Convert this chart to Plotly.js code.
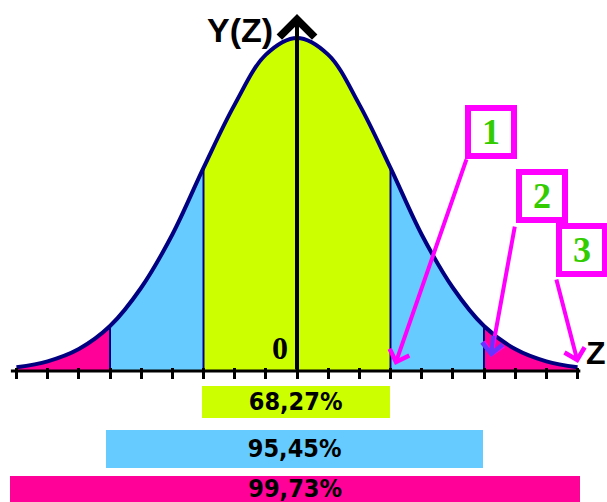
<!DOCTYPE html>
<html><head><meta charset="utf-8">
<script src="https://cdn.plot.ly/plotly-3.0.1.min.js"></script>
<style>html,body{margin:0;padding:0;background:#fff;}#chart{width:607px;height:502px;}</style>
</head><body><div id="chart"></div>
<script>
// ---- data ----
const zGrid = [-3,-2.667,-2.333,-2,-1.667,-1.333,-1,-0.667,-0.333,0,0.333,0.667,1,1.333,1.667,2,2.333,2.667,3];
const yCurve = [0.011,0.029,0.066,0.135,0.25,0.41,0.61,0.80,0.95,1.00,0.95,0.80,0.61,0.41,0.25,0.135,0.066,0.029,0.011];
const bandEdges = [-3,-2,-1,1,2,3];
const bandNames = ['3σ','2σ','1σ','2σ','3σ'];
const dividerZ = [-2,-1,1,2];
const tickZ = [-3,-2.667,-2.333,-2,-1.667,-1.333,-1,-0.667,-0.333,0,0.333,0.667,1,1.333,1.667,2,2.333,2.667,3];
const pctLabels = ['68,27%','95,45%','99,73%'];
const pctLeft = [-1.02,-2.04,-3.07];
const pctRight = [0.99,1.99,3.03];
const zoneNumbers = ['1','2','3'];

// ---- styles ----
const bandColor = {'1σ':'#CCFF00','2σ':'#66CCFF','3σ':'#FF0099'};
const pctColor = ['#CCFF00','#66CCFF','#FF0099'];
const pctRowY = [-0.093,-0.234,-0.354];
const pctRowH = [0.096,0.114,0.078];
const navy = '#000080', magenta = '#FF00FF', numGreen = '#33CC00';

function curveAt(z){ const i = zGrid.findIndex(v=>Math.abs(v-z)<1e-6); return yCurve[i]; }

const traces = [];
for (let i=0;i<bandEdges.length-1;i++){
  const a=bandEdges[i], b=bandEdges[i+1];
  const xs=[], ys=[];
  zGrid.forEach((z,k)=>{ if(z>=a-1e-6 && z<=b+1e-6){xs.push(z); ys.push(yCurve[k]);} });
  traces.push({x:xs,y:ys,type:'scatter',mode:'lines',fill:'tozeroy',
    fillcolor:bandColor[bandNames[i]],line:{width:0,shape:'spline',color:bandColor[bandNames[i]]},hoverinfo:'skip'});
}
// divider lines
const dx=[], dy=[];
dividerZ.forEach(z=>{dx.push(z,z,null); dy.push(0,curveAt(z),null);});
traces.push({x:dx,y:dy,type:'scatter',mode:'lines',line:{color:navy,width:2},hoverinfo:'skip'});
// curve
traces.push({x:zGrid,y:yCurve,type:'scatter',mode:'lines',line:{color:navy,width:4,shape:'spline'},hoverinfo:'skip'});
// percentage bars
traces.push({type:'bar',orientation:'h',
  y:pctRowY, base:pctLeft, x:pctLeft.map((l,i)=>pctRight[i]-l), width:pctRowH,
  marker:{color:pctColor,line:{width:0}},
  text:pctLabels, textposition:'inside', insidetextanchor:'middle', constraintext:'none', textangle:0,
  textfont:{family:'"Liberation Sans Narrow","DejaVu Sans Condensed","Liberation Sans",sans-serif',size:25,color:'#000',weight:'bold'},
  hoverinfo:'skip'});

const W=607,H=502, px0=297, pxPerZ=93.5, py0=371, pxPerY=333;
const annotations = [
  // vertical Y axis with arrow
  {x:0,y:1.072,ax:0,ay:0,xref:'x',yref:'y',axref:'x',ayref:'y',showarrow:true,arrowhead:4,arrowsize:1.7,arrowwidth:4,arrowcolor:'#000',text:''},
  {x:-0.61,y:1.024,xref:'x',yref:'y',text:'Y(Z)',showarrow:false,font:{family:'"Liberation Sans",Arial,sans-serif',size:34,color:'#000',weight:'bold'}},
  {x:3.2,y:0.055,xref:'x',yref:'y',text:'Z',showarrow:false,font:{family:'"Liberation Sans",Arial,sans-serif',size:32,color:'#000',weight:'bold'}},
  {x:-0.18,y:0.069,xref:'x',yref:'y',text:'0',showarrow:false,font:{family:'"Liberation Serif",serif',size:32,color:'#000',weight:'bold'}},
  // magenta pointer arrows
  {x:1.048,y:0.018,ax:1.818,ay:0.640,xref:'x',yref:'y',axref:'x',ayref:'y',showarrow:true,arrowhead:4,arrowsize:1,arrowwidth:4,arrowcolor:magenta,text:''},
  {x:2.075,y:0.042,ax:2.332,ay:0.438,xref:'x',yref:'y',axref:'x',ayref:'y',showarrow:true,arrowhead:4,arrowsize:1,arrowwidth:4,arrowcolor:magenta,text:''},
  {x:2.075,y:0.042,ax:2.10,ay:0.11,xref:'x',yref:'y',axref:'x',ayref:'y',showarrow:true,arrowhead:4,arrowsize:1,arrowwidth:4,arrowcolor:'#6633FF',text:''},
  {x:3.005,y:0.024,ax:2.770,ay:0.279,xref:'x',yref:'y',axref:'x',ayref:'y',showarrow:true,arrowhead:4,arrowsize:1,arrowwidth:4,arrowcolor:magenta,text:''},
];
const boxPos = [[2.080,0.718],[2.615,0.526],[3.053,0.362]];
zoneNumbers.forEach((t,i)=>annotations.push({x:boxPos[i][0],y:boxPos[i][1],xref:'x',yref:'y',text:t,showarrow:false,
  width:40,height:42,borderpad:0,borderwidth:6,bordercolor:magenta,bgcolor:'#fff',
  font:{family:'"Liberation Serif",serif',size:36,color:numGreen,weight:'bold'}}));

const layout = {
  width:W,height:H,margin:{l:0,r:0,t:0,b:0},paper_bgcolor:'#fff',plot_bgcolor:'#fff',showlegend:false,
  xaxis:{range:[(0-px0)/pxPerZ,(W-px0)/pxPerZ],anchor:'free',position:(H-367)/H,tickvals:tickZ,ticks:'outside',ticklen:11,tickwidth:3,tickcolor:'#000',
    showticklabels:false,showgrid:false,zeroline:false,showline:false,fixedrange:true},
  yaxis:{range:[(py0-H)/pxPerY,py0/pxPerY],visible:false,showgrid:false,zeroline:false,fixedrange:true},
  shapes:[{type:'line',xref:'x',yref:'y',x0:-3.06,x1:3.03,y0:0,y1:0,line:{color:'#000',width:3},layer:'above'}],
  annotations:annotations,
  bargap:0
};
Plotly.newPlot('chart',traces,layout,{staticPlot:true,displayModeBar:false});
</script></body></html>
